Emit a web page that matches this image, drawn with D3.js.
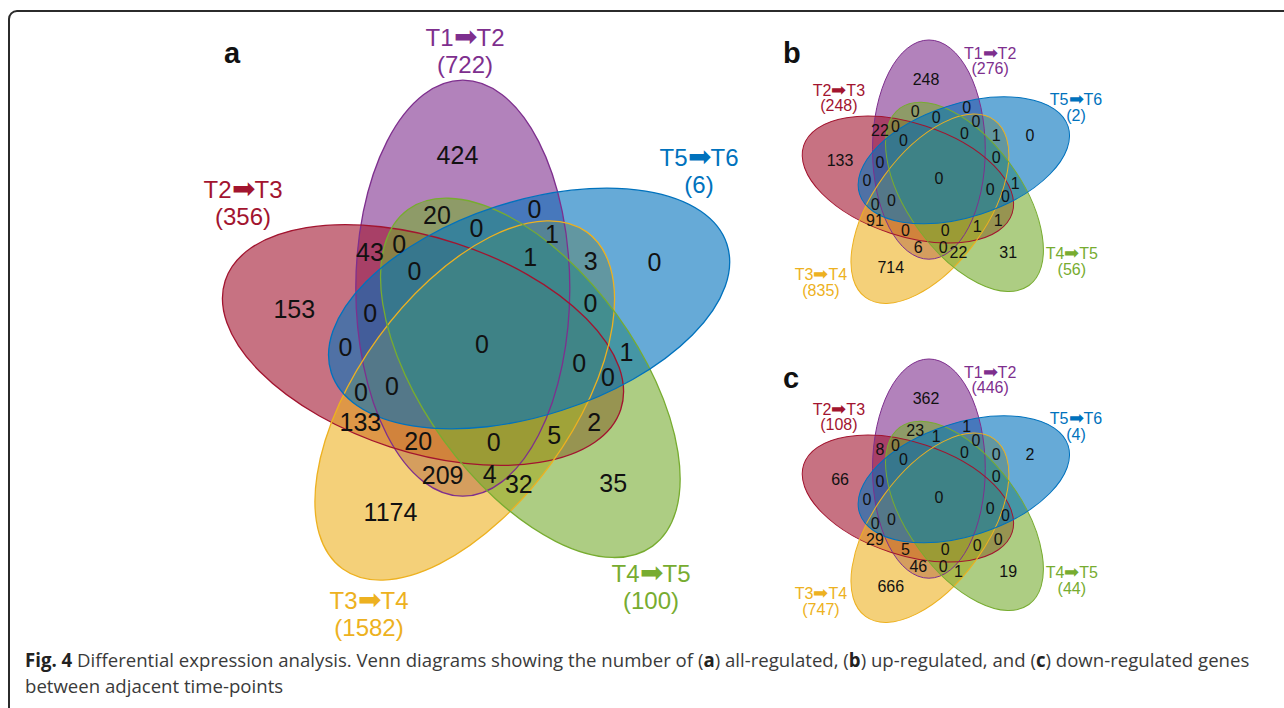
<!DOCTYPE html>
<html>
<head>
<meta charset="utf-8">
<script src="https://cdn.jsdelivr.net/npm/d3@7"></script>
<style>
  body { margin: 0; background: #fff; }
  svg { display: block; }
</style>
</head>
<body>
<svg id="fig" width="1284" height="708"></svg>
<script>
// Sets, in drawing order (bottom -> top)
const setFrom = ["T1", "T2", "T3", "T4", "T5"];
const setTo = ["T2", "T3", "T4", "T5", "T6"];
const setColors = ["#7E2F8E", "#A2142F", "#EDB120", "#77AC30", "#0072BD"];

// set sizes per panel
const totalsA = [722, 356, 1582, 100, 6];
const totalsB = [276, 248, 835, 56, 2];
const totalsC = [446, 108, 747, 44, 4];

// region = indices of the sets it belongs to
const regionKeys = ["0", "1", "2", "3", "4",
    "01", "02", "03", "04", "12", "13", "14", "23", "24", "34",
    "012", "013", "014", "023", "024", "034", "123", "124", "134", "234",
    "0123", "0124", "0134", "0234", "1234", "01234"];

// (a) all-regulated
const countsA = [424, 153, 1174, 35, 0,
    43, 209, 20, 0, 133, 2, 0, 32, 3, 1,
    20, 0, 0, 4, 1, 0, 5, 0, 0, 0,
    0, 0, 0, 1, 0, 0];
// (b) up-regulated
const countsB = [248, 133, 714, 31, 0,
    22, 6, 0, 0, 91, 1, 0, 22, 1, 1,
    0, 0, 0, 0, 0, 0, 1, 0, 0, 0,
    0, 0, 0, 0, 0, 0];
// (c) down-regulated (the 3/4 overlap label is not printed in the original)
const countsC = [362, 66, 666, 19, 2,
    8, 46, 23, 1, 29, 0, 0, 1, 0, null,
    5, 0, 0, 0, 0, 1, 0, 0, 0, 0,
    0, 0, 0, 0, 0, 0];

const captionParts = [
    ["Fig. 4", true], [" Differential expression analysis. Venn diagrams showing the number of (", false],
    ["a", true], [") all-regulated, (", false], ["b", true], [") up-regulated, and (", false],
    ["c", true], [") down-regulated genes", false]];
const captionLine2 = "between adjacent time-points";


//Helpers
const rad = d => d * Math.PI / 180;
const ARROW = "\u27A1";

// Symmetric 5-ellipse Venn, in diagram units (= px of panel a)
const ELL_A = 208, ELL_B = 107, RING = 59, START = -109;
const slotOf = [0, 4, 3, 2, 1]; // angular slot of each set around the ring

const ellipses = setFrom.map((name, i) => {
    const phi = rad(START + 72 * slotOf[i]);
    return { i, cx: RING * Math.cos(phi), cy: RING * Math.sin(phi), rot: 90 + 72 * slotOf[i] };
});

// label anchor of each region: centroid of the region (pole if centroid falls outside)
const anchors = (() => {
    const acc = new Map();
    const step = 1.5;
    const keyAt = (x, y) => {
        let key = '', depth = Infinity;
        ellipses.forEach(e => {
            const t = rad(e.rot), dx = x - e.cx, dy = y - e.cy;
            const u = dx * Math.cos(t) + dy * Math.sin(t);
            const v = -dx * Math.sin(t) + dy * Math.cos(t);
            const f = u * u / (ELL_A * ELL_A) + v * v / (ELL_B * ELL_B);
            const g = 2 * Math.sqrt(u * u / ELL_A ** 4 + v * v / ELL_B ** 4);
            depth = Math.min(depth, Math.abs(f - 1) / g);
            if (f < 1) key += e.i;
        });
        return { key, depth };
    };
    for (let y = -290; y <= 290; y += step) {
        for (let x = -290; x <= 290; x += step) {
            const { key, depth } = keyAt(x, y);
            if (!key) continue;
            const a = acc.get(key) || { sx: 0, sy: 0, n: 0, pole: null };
            a.sx += x; a.sy += y; a.n += 1;
            if (!a.pole || depth > a.pole.d) a.pole = { x, y, d: depth };
            acc.set(key, a);
        }
    }
    const out = new Map();
    acc.forEach((a, key) => {
        const c = { x: a.sx / a.n, y: a.sy / a.n };
        const hit = keyAt(c.x, c.y);
        out.set(key, (hit.key === key && hit.depth > 6) ? c : a.pole);
    });
    return out;
})();

const panels = [
    {
        letter: 'a', cx: 482, cy: 344, k: 1, counts: countsA, totals: totalsA,
        numSize: 25, nameSize: 24, lineGap: 26.5, strokeW: 1.3, letterX: 224, letterY: 63,
        // first-line baseline of each set name, diagram units from centre
        nameAt: [[-17, -298], [-239, -146], [-113, 265], [169, 238], [217, -178]],
    },
    {
        letter: 'b', cx: 939, cy: 179, k: 0.527, counts: countsB, totals: totalsB,
        numSize: 16, nameSize: 16, lineGap: 15.5, strokeW: 1, letterX: 783, letterY: 63,
        nameAt: [[97, -228], [-190, -158], [-224, 192], [252, 152], [260, -140]],
    },
    {
        letter: 'c', cx: 939, cy: 498, k: 0.527, counts: countsC, totals: totalsC,
        numSize: 16, nameSize: 16, lineGap: 15.5, strokeW: 1, letterX: 783, letterY: 388,
        nameAt: [[97, -228], [-190, -158], [-224, 192], [252, 152], [260, -140]],
    },
];

const svg = d3.select('#fig');

// frame
svg.append('path')
    .attr('d', 'M9,708 V19 A8,8 0 0 1 17,11 H1284')
    .attr('fill', 'none')
    .attr('stroke', '#2b2b2b')
    .attr('stroke-width', 2);

const drawPanel = (p) => {
    const x = d3.scaleLinear().domain([0, 1]).range([p.cx, p.cx + p.k]);
    const y = d3.scaleLinear().domain([0, 1]).range([p.cy, p.cy + p.k]);
    const g = svg.append('g').attr('class', 'panel-' + p.letter);

    const ell = sel => sel
        .attr('cx', d => x(d.cx))
        .attr('cy', d => y(d.cy))
        .attr('rx', ELL_A * p.k)
        .attr('ry', ELL_B * p.k)
        .attr('transform', d => `rotate(${d.rot} ${x(d.cx)} ${y(d.cy)})`);

    // fills
    g.append('g').selectAll('ellipse')
        .data(ellipses)
        .join('ellipse')
        .call(ell)
        .attr('fill', d => setColors[d.i])
        .attr('fill-opacity', 0.6);

    // outlines
    g.append('g').selectAll('ellipse')
        .data(ellipses)
        .join('ellipse')
        .call(ell)
        .attr('fill', 'none')
        .attr('stroke', d => setColors[d.i])
        .attr('stroke-width', p.strokeW);

    // region counts
    const regions = regionKeys
        .map((key, i) => ({ key, n: p.counts[i], at: anchors.get(key) }))
        .filter(r => r.n !== null && r.at);
    g.append('g').selectAll('text')
        .data(regions)
        .join('text')
        .attr('x', d => x(d.at.x))
        .attr('y', d => y(d.at.y))
        .attr('text-anchor', 'middle')
        .attr('dominant-baseline', 'central')
        .attr('font-family', '"Liberation Sans", Arial, sans-serif')
        .attr('font-size', p.numSize)
        .attr('fill', '#111')
        .text(d => d.n);

    // set names + sizes
    const names = g.append('g').selectAll('text')
        .data(setFrom.map((from, i) => ({ from, to: setTo[i], i })))
        .join('text')
        .attr('text-anchor', 'middle')
        .attr('font-family', '"Liberation Sans", Arial, sans-serif')
        .attr('font-size', p.nameSize)
        .attr('fill', d => setColors[d.i]);
    const line1 = names.append('tspan')
        .attr('x', d => x(p.nameAt[d.i][0]))
        .attr('y', d => y(p.nameAt[d.i][1]));
    line1.append('tspan').text(d => d.from);
    line1.append('tspan')
        .attr('font-size', p.nameSize * 1.15)
        .text(ARROW);
    line1.append('tspan').text(d => d.to);
    names.append('tspan')
        .attr('x', d => x(p.nameAt[d.i][0]))
        .attr('y', d => y(p.nameAt[d.i][1]) + p.lineGap)
        .text(d => `(${p.totals[d.i]})`);

    // panel letter
    svg.append('text')
        .attr('x', p.letterX)
        .attr('y', p.letterY)
        .attr('font-family', '"Liberation Sans", Arial, sans-serif')
        .attr('font-weight', 'bold')
        .attr('font-size', 29)
        .attr('fill', '#111')
        .text(p.letter);
};

panels.forEach(drawPanel);

// caption: the original typeface is condensed, so squeeze the lines horizontally
const capFont = '"Open Sans", "Noto Sans", sans-serif';
const capG = svg.append('g');
const cap1 = capG.append('text')
    .attr('x', 0)
    .attr('y', 667)
    .attr('font-family', capFont)
    .attr('font-size', 19)
    .attr('fill', '#3a3a3a');
cap1.selectAll('tspan')
    .data(captionParts)
    .join('tspan')
    .attr('font-weight', d => d[1] ? 'bold' : null)
    .attr('fill', d => d[1] ? '#222' : null)
    .text(d => d[0]);
capG.append('text')
    .attr('x', 0)
    .attr('y', 693)
    .attr('font-family', capFont)
    .attr('font-size', 19)
    .attr('fill', '#3a3a3a')
    .text(captionLine2);
const squeeze = 1225 / cap1.node().getComputedTextLength();
capG.attr('transform', `translate(25,0) scale(${squeeze},1)`);
</script>
</body>
</html>
